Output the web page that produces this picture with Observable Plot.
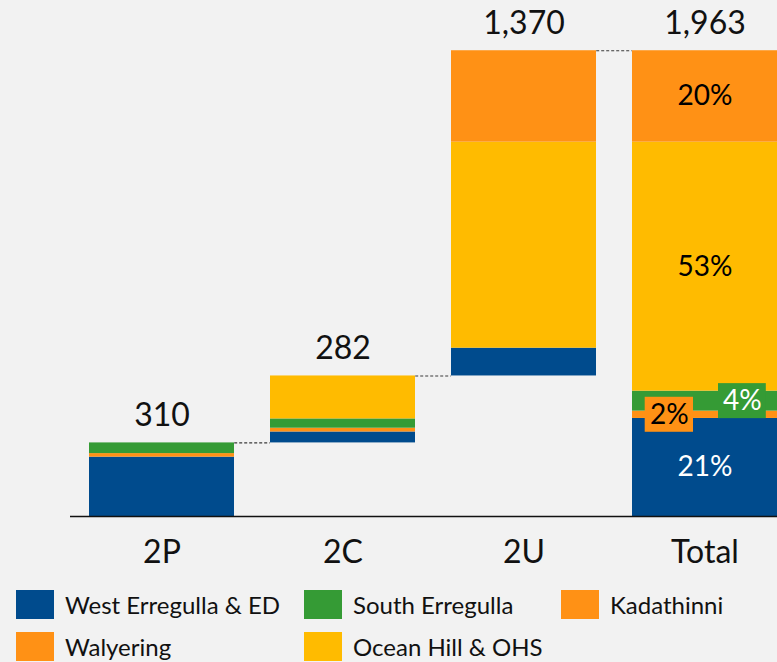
<!DOCTYPE html>
<html>
<head>
<meta charset="utf-8">
<script src="https://cdn.jsdelivr.net/npm/d3@7"></script>
<script src="https://cdn.jsdelivr.net/npm/@observablehq/plot@0.6"></script>
<style>
  html, body { margin: 0; padding: 0; background: #f2f2f2; overflow: hidden; }
  #chart { width: 777px; height: 662px; position: relative; font-family: Lato, sans-serif; }
  .legend { display: grid; grid-template-columns: 288px 257px 200px; row-gap: 13px; padding: 10px 0 0 16px; }
  .item { display: flex; align-items: center; height: 29px; }
  .sw { width: 38px; height: 29px; margin-right: 11px; flex: none; }
  .lab { font-size: 24px; color: #111; white-space: nowrap; }
</style>
</head>
<body>
<div id="chart"></div>
<script>
// ---- data ----
const categories = ["2P", "2C", "2U"];
const totalCategory = "Total";
const barLabels = [310, 282, 1370, 1963];            // value shown above each bar
// stacked from bottom to top
const seriesNames = ["West Erregulla & ED", "Walyering", "South Erregulla", "Ocean Hill & OHS", "Kadathinni"];
const westErregulla = [250, 46, 117];
const walyering     = [15, 16, 0];
const southErregulla= [45, 39, 0];
const oceanHill     = [0, 181, 868];
const kadathinni    = [0, 0, 385];
const legendOrder = ["West Erregulla & ED", "South Erregulla", "Kadathinni", "Walyering", "Ocean Hill & OHS"];

// ---- styles ----
const colorOf = {
  "West Erregulla & ED": "#004B8D",
  "South Erregulla": "#359B35",
  "Kadathinni": "#FF9115",
  "Walyering": "#FF9115",
  "Ocean Hill & OHS": "#FFBB00"
};
const seriesValues = [westErregulla, walyering, southErregulla, oceanHill, kadathinni];
const allCats = [...categories, totalCategory];

// ---- build stacked waterfall rows ----
const segs = [];
let base = 0;
categories.forEach((c, i) => {
  let y = base;
  seriesNames.forEach((s, k) => {
    const v = seriesValues[k][i];
    if (v > 0) segs.push({cat: c, series: s, y1: y, y2: y + v, v});
    y += v;
  });
  base = y;
});
const seriesTotals = seriesValues.map(arr => d3.sum(arr));
const grand = d3.sum(seriesTotals);
let yt = 0;
const totalSegs = [];
seriesNames.forEach((s, k) => {
  const v = seriesTotals[k];
  const row = {cat: totalCategory, series: s, y1: yt, y2: yt + v, v, mid: yt + v / 2,
               pct: Math.round(100 * v / grand) + "%"};
  segs.push(row); totalSegs.push(row);
  yt += v;
});

// top of each bar (for labels and connectors)
const tops = [];
let cum = 0;
categories.forEach((c, i) => {
  const t = d3.sum(seriesValues, a => a[i]);
  cum += t;
  tops.push({cat: c, top: cum, label: d3.format(",")(barLabels[i]), next: allCats[i + 1]});
});
tops.push({cat: totalCategory, top: yt, label: d3.format(",")(barLabels[3])});

const yMax = barLabels[3];
const bw = 145.2; // bandwidth from the x range below

const labelStyle = {
  "West Erregulla & ED": {fill: "white", dx: 0, box: null},
  "Walyering": {fill: "black", dx: -35.6, box: [12.7, 84]},
  "South Erregulla": {fill: "white", dx: 37.4, box: [86, 11.2]},
  "Ocean Hill & OHS": {fill: "black", dx: 0, box: null},
  "Kadathinni": {fill: "black", dx: 0, box: null}
};

const marks = [
  // connectors
  Plot.ruleY(tops.filter(d => d.next), {
    y: "top", x1: "cat", x2: "next", insetLeft: bw, insetRight: bw,
    stroke: "#3a3a3a", strokeWidth: 1.1, strokeDasharray: "3,2"
  }),
  Plot.barY(segs, {x: "cat", y1: "y1", y2: "y2", fill: d => colorOf[d.series]}),
  Plot.ruleY([0], {stroke: "#111", strokeWidth: 1.6}),
  Plot.text(tops, {x: "cat", y: "top", text: "label", dy: -27, fontSize: 32, fill: "#111", lineAnchor: "middle"})
];
totalSegs.forEach(d => {
  const st = labelStyle[d.series];
  if (st.box) {
    marks.push(Plot.barY([d], {x: "cat", y1: "mid", y2: "mid", fill: colorOf[d.series],
      insetLeft: st.box[0], insetRight: st.box[1], insetTop: -17.5, insetBottom: -17.5}));
  }
  marks.push(Plot.text([d], {x: "cat", y: "mid", text: "pct", dx: st.dx, fill: st.fill,
    fontSize: 28, lineAnchor: "middle"}));
});
marks.push(Plot.axisX({tickSize: 0, tickPadding: 24, fontSize: 32, fill: "#111"}));

const chart = Plot.plot({
  width: 777,
  height: 580,
  marginTop: 50,
  marginBottom: 64,
  marginLeft: 70,
  marginRight: 0,
  style: {background: "#f2f2f2", fontFamily: "Lato, sans-serif", color: "#111"},
  x: {domain: allCats, range: [70, 796], paddingInner: 0.2, paddingOuter: 0.1, label: null},
  y: {domain: [0, yMax], axis: null},
  marks
});
const root = document.getElementById("chart");
root.appendChild(chart);

const legend = document.createElement("div");
legend.className = "legend";
legendOrder.forEach(s => {
  const it = document.createElement("div");
  it.className = "item";
  const sw = document.createElement("div");
  sw.className = "sw"; sw.style.background = colorOf[s];
  const lb = document.createElement("span");
  lb.className = "lab"; lb.textContent = s;
  it.appendChild(sw); it.appendChild(lb);
  legend.appendChild(it);
});
root.appendChild(legend);
</script>
</body>
</html>
